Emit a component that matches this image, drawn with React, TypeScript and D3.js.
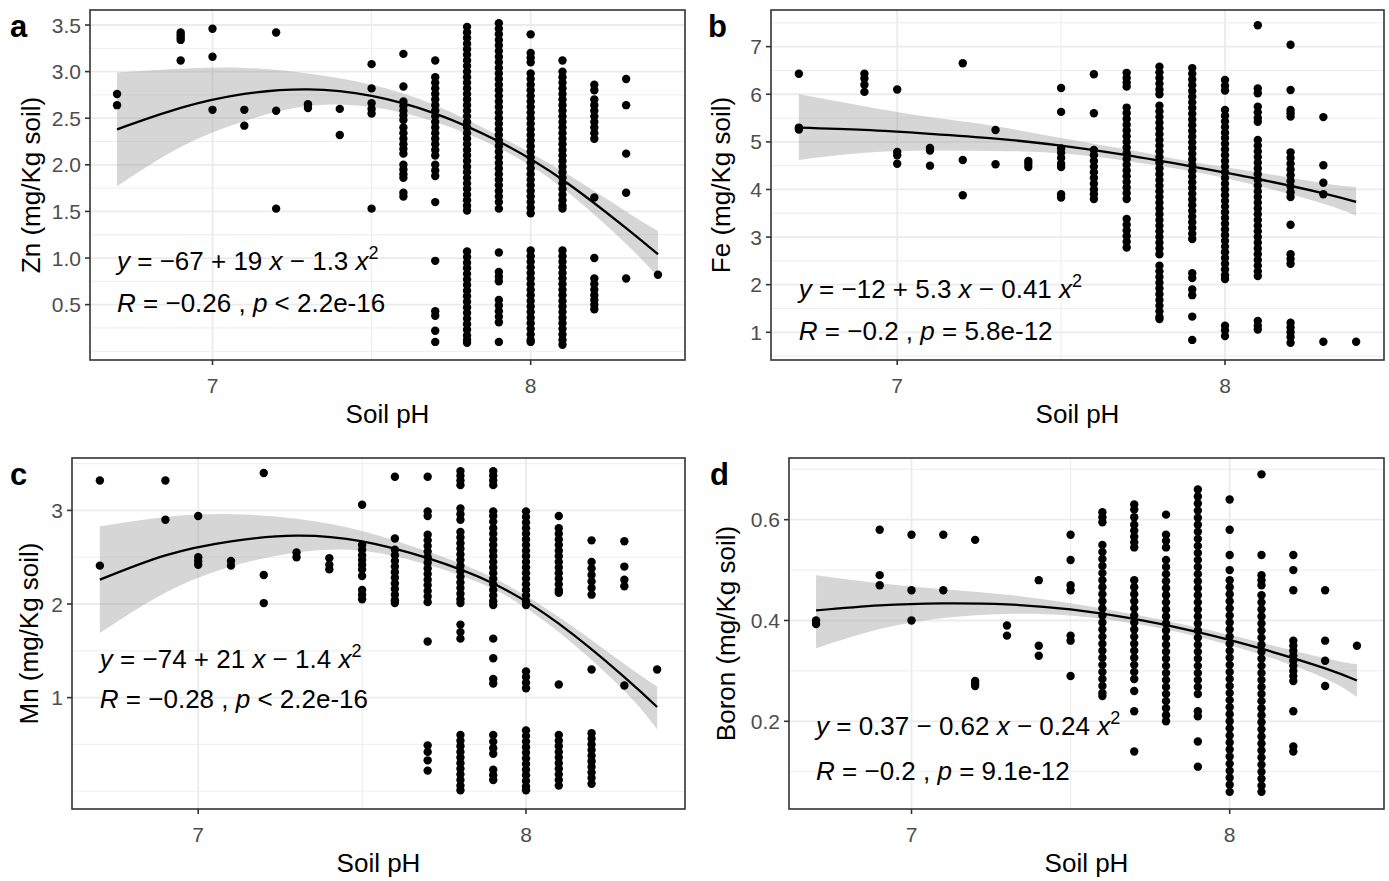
import React from 'react';
import * as d3 from 'd3';

// soil pH classes (x positions of the point columns)
const phLevels = [6.7, 6.9, 7.0, 7.1, 7.2, 7.3, 7.4, 7.5, 7.6, 7.7, 7.8, 7.9, 8.0, 8.1, 8.2, 8.3, 8.4];
const phDomain = [6.615, 8.485];
const phTicks = [7, 8];
const phMinor = [7.5];

// a: Zn, one list of values per pH class
const znValues = [
  [2.76, 2.64],
  [3.42, 3.39, 3.36, 3.34, 3.12],
  [3.46, 3.16, 2.59],
  [2.59, 2.42],
  [3.42, 2.58, 1.53],
  [2.65, 2.61],
  [2.60, 2.32],
  [3.08, 2.82, 2.66, 2.60, 2.55, 1.53],
  [3.19, 2.84, 2.68, 2.63, 2.58, 2.53, 2.48, 2.40, 2.34, 2.28, 2.22, 2.17, 2.12, 2.00, 1.95, 1.90, 1.86, 1.70, 1.66],
  [3.12, 2.94, 2.88, 2.82, 2.76, 2.70, 2.64, 2.58, 2.52, 2.46, 2.40, 2.34, 2.28, 2.22, 2.16, 2.10, 2.00, 1.94, 1.88, 1.60, 0.97, 0.43, 0.38, 0.22, 0.10],
  [3.48, 3.42, 3.36, 3.30, 3.24, 3.18, 3.12, 3.06, 3.00, 2.94, 2.88, 2.82, 2.76, 2.70, 2.64, 2.58, 2.52, 2.46, 2.40, 2.34, 2.28, 2.22, 2.16, 2.10, 2.04, 1.98, 1.92, 1.86, 1.80, 1.74, 1.68, 1.62, 1.56, 1.51,
    1.07, 1.01, 0.95, 0.89, 0.83, 0.77, 0.71, 0.65, 0.59, 0.53, 0.47, 0.41, 0.35, 0.29, 0.23, 0.17, 0.12, 0.09],
  [3.52, 3.46, 3.40, 3.34, 3.28, 3.22, 3.16, 3.10, 3.04, 2.98, 2.92, 2.86, 2.80, 2.74, 2.68, 2.62, 2.56, 2.50, 2.44, 2.38, 2.32, 2.26, 2.20, 2.14, 2.08, 2.02, 1.96, 1.90, 1.84, 1.78, 1.72, 1.66, 1.60, 1.53,
    1.06, 0.85, 0.80, 0.75, 0.55, 0.49, 0.43, 0.37, 0.31, 0.10],
  [3.40, 3.20, 3.15, 3.10, 2.98, 2.92, 2.86, 2.80, 2.74, 2.68, 2.62, 2.56, 2.50, 2.44, 2.38, 2.32, 2.26, 2.20, 2.14, 2.08, 2.02, 1.96, 1.90, 1.84, 1.78, 1.72, 1.66, 1.60, 1.54, 1.48,
    1.08, 1.02, 0.96, 0.90, 0.84, 0.78, 0.72, 0.66, 0.60, 0.54, 0.48, 0.42, 0.36, 0.30, 0.24, 0.18, 0.12, 0.10],
  [3.12, 3.00, 2.94, 2.88, 2.82, 2.76, 2.70, 2.64, 2.58, 2.52, 2.46, 2.40, 2.34, 2.28, 2.22, 2.16, 2.10, 2.04, 1.98, 1.92, 1.86, 1.80, 1.74, 1.68, 1.62, 1.56, 1.53,
    1.08, 1.02, 0.96, 0.90, 0.84, 0.78, 0.72, 0.66, 0.60, 0.54, 0.48, 0.42, 0.36, 0.30, 0.24, 0.18, 0.12, 0.07],
  [2.86, 2.80, 2.70, 2.64, 2.58, 2.52, 2.46, 2.40, 2.34, 2.28, 1.65, 1.00, 0.78, 0.72, 0.66, 0.60, 0.55, 0.50, 0.45],
  [2.92, 2.64, 2.12, 1.70, 0.78],
  [0.82],
];

// b: Fe
const feValues = [
  [6.43, 5.30, 5.26],
  [6.43, 6.33, 6.20, 6.05],
  [6.10, 4.79, 4.72, 4.54],
  [4.87, 4.82, 4.50],
  [6.65, 4.62, 3.88],
  [5.25, 4.53],
  [4.60, 4.54, 4.47],
  [6.13, 5.63, 4.86, 4.77, 4.66, 4.54, 4.47, 3.90, 3.83],
  [6.42, 5.60, 4.83, 4.72, 4.60, 4.48, 4.36, 4.24, 4.12, 4.00, 3.90, 3.80],
  [6.45, 6.34, 6.24, 6.16, 5.72, 5.60, 5.48, 5.36, 5.24, 5.12, 5.00, 4.88, 4.76, 4.64, 4.52, 4.40, 4.28, 4.16, 4.04, 3.92, 3.80,
    3.38, 3.26, 3.14, 3.02, 2.90, 2.78],
  [6.58, 6.46, 6.34, 6.22, 6.10, 6.00, 5.76, 5.64, 5.52, 5.40, 5.28, 5.16, 5.04, 4.92, 4.80, 4.68, 4.56, 4.44, 4.32, 4.20, 4.08, 3.96, 3.84, 3.72, 3.60, 3.48, 3.36, 3.24, 3.12, 3.00, 2.88, 2.76, 2.64,
    2.40, 2.28, 2.16, 2.04, 1.92, 1.80, 1.68, 1.56, 1.44, 1.32, 1.28],
  [6.55, 6.43, 6.31, 6.19, 6.07, 5.95, 5.83, 5.71, 5.59, 5.47, 5.35, 5.23, 5.11, 4.99, 4.87, 4.75, 4.63, 4.51, 4.39, 4.27, 4.15, 4.03, 3.91, 3.79, 3.67, 3.55, 3.43, 3.31, 3.19, 3.07, 2.96,
    2.24, 2.14, 1.90, 1.78, 1.33, 0.84],
  [6.30, 6.18, 6.08, 5.67, 5.55, 5.43, 5.31, 5.19, 5.08, 4.96, 4.84, 4.72, 4.60, 4.48, 4.36, 4.24, 4.12, 4.00, 3.88, 3.76, 3.64, 3.52, 3.40, 3.28, 3.16, 3.04, 2.92, 2.80, 2.68, 2.56, 2.44, 2.32, 2.20, 2.12,
    1.14, 1.04, 0.92],
  [7.45, 6.12, 6.02, 5.74, 5.62, 5.50, 5.42, 5.04, 4.92, 4.80, 4.68, 4.56, 4.44, 4.32, 4.20, 4.08, 3.96, 3.84, 3.72, 3.60, 3.48, 3.36, 3.24, 3.12, 3.00, 2.88, 2.76, 2.64, 2.52, 2.40, 2.28, 2.18,
    1.24, 1.14, 1.06],
  [7.04, 6.09, 5.67, 5.60, 5.53, 4.78, 4.66, 4.54, 4.42, 4.30, 4.18, 4.06, 3.94, 3.84, 3.26, 2.64, 2.54, 2.44, 1.20, 1.10, 1.00, 0.90, 0.78],
  [5.52, 4.51, 4.14, 3.90, 0.80],
  [0.80],
];

// c: Mn
const mnValues = [
  [3.32, 2.41],
  [3.32, 2.90],
  [2.94, 2.50, 2.46, 2.42],
  [2.46, 2.41],
  [3.40, 2.31, 2.01],
  [2.55, 2.50],
  [2.49, 2.42, 2.37],
  [3.06, 2.63, 2.58, 2.52, 2.47, 2.42, 2.37, 2.30, 2.15, 2.10, 2.05],
  [3.36, 2.70, 2.58, 2.52, 2.46, 2.40, 2.34, 2.28, 2.22, 2.16, 2.10, 2.04, 2.01],
  [3.36, 2.99, 2.94, 2.74, 2.68, 2.62, 2.56, 2.50, 2.44, 2.38, 2.32, 2.26, 2.20, 2.14, 2.08, 2.02, 1.60, 0.49, 0.42, 0.33, 0.22],
  [3.42, 3.37, 3.32, 3.27, 3.02, 2.96, 2.90, 2.77, 2.71, 2.65, 2.59, 2.53, 2.47, 2.41, 2.35, 2.29, 2.23, 2.17, 2.11, 2.05, 2.01, 1.78, 1.70, 1.63,
    0.60, 0.54, 0.48, 0.42, 0.36, 0.30, 0.24, 0.18, 0.12, 0.06, 0.01],
  [3.42, 3.37, 3.32, 3.27, 2.99, 2.94, 2.88, 2.81, 2.75, 2.69, 2.63, 2.57, 2.51, 2.45, 2.39, 2.33, 2.27, 2.21, 2.15, 2.09, 2.03, 1.99,
    1.63, 1.42, 1.20, 1.15, 0.60, 0.53, 0.46, 0.40, 0.23, 0.17, 0.12],
  [2.99, 2.93, 2.87, 2.81, 2.75, 2.69, 2.63, 2.57, 2.51, 2.45, 2.39, 2.33, 2.27, 2.21, 2.15, 2.09, 2.03, 1.99,
    1.28, 1.22, 1.16, 1.10, 0.65, 0.59, 0.53, 0.47, 0.41, 0.35, 0.29, 0.23, 0.17, 0.11, 0.05, 0.01],
  [2.94, 2.81, 2.75, 2.69, 2.63, 2.57, 2.51, 2.45, 2.39, 2.33, 2.27, 2.21, 2.15, 2.12, 1.14, 0.60, 0.54, 0.48, 0.42, 0.36, 0.30, 0.24, 0.18, 0.12, 0.06],
  [2.68, 2.45, 2.38, 2.31, 2.24, 2.17, 2.10, 1.30, 0.62, 0.56, 0.50, 0.44, 0.38, 0.32, 0.26, 0.20, 0.14, 0.08],
  [2.67, 2.40, 2.26, 2.19, 1.13],
  [1.30],
];

// d: Boron
const boronValues = [
  [0.400, 0.393],
  [0.58, 0.49, 0.47],
  [0.57, 0.46, 0.40],
  [0.57, 0.46],
  [0.56, 0.280, 0.275, 0.270],
  [0.39, 0.37],
  [0.48, 0.35, 0.33],
  [0.57, 0.52, 0.47, 0.46, 0.37, 0.36, 0.29],
  [0.615, 0.605, 0.595, 0.55, 0.536, 0.522, 0.508, 0.494, 0.480, 0.466, 0.452, 0.438, 0.424, 0.410, 0.396, 0.382, 0.368, 0.354, 0.340, 0.326, 0.312, 0.298, 0.284, 0.270, 0.256, 0.25],
  [0.63, 0.62, 0.605, 0.59, 0.578, 0.566, 0.555, 0.545, 0.48, 0.466, 0.452, 0.438, 0.424, 0.410, 0.396, 0.382, 0.368, 0.354, 0.340, 0.326, 0.312, 0.298, 0.284, 0.26, 0.22, 0.14],
  [0.61, 0.57, 0.558, 0.545, 0.52, 0.506, 0.492, 0.478, 0.464, 0.450, 0.436, 0.422, 0.408, 0.394, 0.380, 0.366, 0.352, 0.338, 0.324, 0.310, 0.296, 0.282, 0.268, 0.254, 0.240, 0.226, 0.212, 0.20],
  [0.66, 0.646, 0.632, 0.618, 0.604, 0.590, 0.576, 0.562, 0.548, 0.534, 0.520, 0.506, 0.492, 0.478, 0.464, 0.450, 0.436, 0.422, 0.408, 0.394, 0.380, 0.366, 0.352, 0.338, 0.324, 0.310, 0.296, 0.282, 0.268, 0.254,
    0.22, 0.21, 0.16, 0.11],
  [0.64, 0.58, 0.53, 0.50, 0.48, 0.466, 0.452, 0.438, 0.424, 0.410, 0.396, 0.382, 0.368, 0.354, 0.340, 0.326, 0.312, 0.298, 0.284, 0.270, 0.256, 0.242, 0.228, 0.214, 0.200, 0.186, 0.172, 0.158, 0.144, 0.130, 0.116, 0.102, 0.088, 0.074, 0.06],
  [0.69, 0.53, 0.49, 0.48, 0.47, 0.45, 0.436, 0.422, 0.408, 0.394, 0.380, 0.366, 0.352, 0.338, 0.324, 0.310, 0.296, 0.282, 0.268, 0.254, 0.240, 0.226, 0.212, 0.198, 0.184, 0.170, 0.156, 0.142, 0.128, 0.114, 0.100, 0.086, 0.072, 0.06],
  [0.53, 0.50, 0.46, 0.36, 0.35, 0.34, 0.33, 0.32, 0.31, 0.30, 0.29, 0.28, 0.22, 0.15, 0.14],
  [0.46, 0.36, 0.32, 0.27],
  [0.35],
];

const fitPh = [6.7, 6.9, 7.1, 7.3, 7.5, 7.7, 7.9, 8.1, 8.3, 8.4];
const znFit = [2.38, 2.61, 2.76, 2.81, 2.74, 2.55, 2.25, 1.84, 1.32, 1.04];
const znUpper = [2.99, 3.03, 3.04, 2.98, 2.86, 2.64, 2.31, 1.93, 1.50, 1.29];
const znLower = [1.77, 2.19, 2.47, 2.63, 2.62, 2.46, 2.18, 1.75, 1.15, 0.80];
const feFit = [5.30, 5.25, 5.17, 5.07, 4.92, 4.72, 4.48, 4.22, 3.92, 3.74];
const feUpper = [6.00, 5.75, 5.52, 5.33, 5.08, 4.84, 4.58, 4.36, 4.13, 4.05];
const feLower = [4.62, 4.77, 4.82, 4.81, 4.76, 4.60, 4.38, 4.08, 3.70, 3.45];
const mnFit = [2.26, 2.52, 2.67, 2.73, 2.67, 2.49, 2.22, 1.79, 1.22, 0.90];
const mnUpper = [2.83, 2.93, 2.96, 2.91, 2.78, 2.56, 2.28, 1.86, 1.36, 1.12];
const mnLower = [1.69, 2.12, 2.40, 2.55, 2.57, 2.42, 2.16, 1.70, 1.07, 0.66];
const boronFit = [0.420, 0.430, 0.434, 0.432, 0.422, 0.403, 0.377, 0.344, 0.305, 0.281];
const boronUpper = [0.490, 0.474, 0.462, 0.451, 0.434, 0.412, 0.386, 0.356, 0.325, 0.313];
const boronLower = [0.345, 0.383, 0.405, 0.413, 0.410, 0.394, 0.368, 0.332, 0.285, 0.248];

// equation / correlation labels
const eqTerms = [
  ['−67 + 19', '− 1.3'],
  ['−12 + 5.3', '− 0.41'],
  ['−74 + 21', '− 1.4'],
  ['0.37 − 0.62', '− 0.24'],
];
const statTerms = [
  ['−0.26', '< 2.2e-16'],
  ['−0.2', '= 5.8e-12'],
  ['−0.28', '< 2.2e-16'],
  ['−0.2', '= 9.1e-12'],
];

const font = '"Liberation Sans", Arial, sans-serif';

const panels = [
  {
    letter: 'a', title: 'Zn (mg/Kg soil)', values: znValues, fit: znFit, upper: znUpper, lower: znLower,
    box: [90, 10, 685, 360], yDomain: [-0.094, 3.661],
    yTicks: [0.5, 1, 1.5, 2, 2.5, 3, 3.5], yMinor: [0, 0.25, 0.75, 1.25, 1.75, 2.25, 2.75, 3.25], fmt: '.1f',
    textY: [0.87, 0.42], titleX: 40, letterX: 10, letterY: 37,
  },
  {
    letter: 'b', title: 'Fe (mg/Kg soil)', values: feValues, fit: feFit, upper: feUpper, lower: feLower,
    box: [771, 10, 1384, 360], yDomain: [0.418, 7.77],
    yTicks: [1, 2, 3, 4, 5, 6, 7], yMinor: [0.5, 1.5, 2.5, 3.5, 4.5, 5.5, 6.5, 7.5], fmt: 'd',
    textY: [1.72, 0.83], titleX: 730, letterX: 708, letterY: 37,
  },
  {
    letter: 'c', title: 'Mn (mg/Kg soil)', values: mnValues, fit: mnFit, upper: mnUpper, lower: mnLower,
    box: [72, 458, 685, 809], yDomain: [-0.19, 3.56],
    yTicks: [1, 2, 3], yMinor: [0, 0.5, 1.5, 2.5, 3.5], fmt: 'd',
    textY: [1.317, 0.889], titleX: 38, letterX: 10, letterY: 485,
  },
  {
    letter: 'd', title: 'Boron (mg/Kg soil)', values: boronValues, fit: boronFit, upper: boronUpper, lower: boronLower,
    box: [789, 458, 1384, 809], yDomain: [0.026, 0.7224],
    yTicks: [0.2, 0.4, 0.6], yMinor: [0.1, 0.3, 0.5, 0.7], fmt: '.1f',
    textY: [0.1734, 0.0841], titleX: 735, letterX: 710, letterY: 485,
  },
];

function Panel({ p, i }) {
  const [x0, y0, x1, y1] = p.box;
  const x = d3.scaleLinear().domain(phDomain).range([x0, x1]);
  const y = d3.scaleLinear().domain(p.yDomain).range([y1, y0]);
  const fmt = d3.format(p.fmt);

  const band = d3.area()
    .x((_, k) => x(fitPh[k]))
    .y0((_, k) => y(p.lower[k]))
    .y1((_, k) => y(p.upper[k]))
    .curve(d3.curveNatural);
  const line = d3.line()
    .x((_, k) => x(fitPh[k]))
    .y(d => y(d))
    .curve(d3.curveNatural);

  const [eqA, eqB] = eqTerms[i];
  const [rVal, pVal] = statTerms[i];
  const tx = x(6.7);

  return (
    <g>
      <rect x={x0} y={y0} width={x1 - x0} height={y1 - y0} fill="white" />
      {p.yMinor.map((v, k) => (
        <line key={'ym' + k} x1={x0} x2={x1} y1={y(v)} y2={y(v)} stroke="#EBEBEB" strokeWidth={0.9} />
      ))}
      {phMinor.map((v, k) => (
        <line key={'xm' + k} x1={x(v)} x2={x(v)} y1={y0} y2={y1} stroke="#EBEBEB" strokeWidth={0.9} />
      ))}
      {p.yTicks.map((v, k) => (
        <line key={'yg' + k} x1={x0} x2={x1} y1={y(v)} y2={y(v)} stroke="#EBEBEB" strokeWidth={1.8} />
      ))}
      {phTicks.map((v, k) => (
        <line key={'xg' + k} x1={x(v)} x2={x(v)} y1={y0} y2={y1} stroke="#EBEBEB" strokeWidth={1.8} />
      ))}

      <path d={band(p.fit)} fill="#999999" fillOpacity={0.4} />
      <path d={line(p.fit)} fill="none" stroke="black" strokeWidth={2.3} />

      {p.values.map((col, c) =>
        col.map((v, k) => <circle key={c + '-' + k} cx={x(phLevels[c])} cy={y(v)} r={4.2} fill="black" />)
      )}

      <text x={tx} y={y(p.textY[0])} fontFamily={font} fontSize={26} fill="black" style={{ whiteSpace: 'pre' }}>
        <tspan fontStyle="italic">y</tspan>
        <tspan>{' = ' + eqA + ' '}</tspan>
        <tspan fontStyle="italic">x</tspan>
        <tspan>{' ' + eqB + ' '}</tspan>
        <tspan fontStyle="italic">x</tspan>
        <tspan fontSize={18} dy={-11}>2</tspan>
      </text>
      <text x={tx} y={y(p.textY[1])} fontFamily={font} fontSize={26} fill="black" style={{ whiteSpace: 'pre' }}>
        <tspan fontStyle="italic">R</tspan>
        <tspan>{' = ' + rVal + ' , '}</tspan>
        <tspan fontStyle="italic">p</tspan>
        <tspan>{' ' + pVal}</tspan>
      </text>

      <rect x={x0} y={y0} width={x1 - x0} height={y1 - y0} fill="none" stroke="#333333" strokeWidth={1.6} />

      {p.yTicks.map((v, k) => (
        <g key={'yt' + k}>
          <line x1={x0 - 5} x2={x0} y1={y(v)} y2={y(v)} stroke="#333333" strokeWidth={1.6} />
          <text x={x0 - 9} y={y(v)} dy="0.36em" textAnchor="end" fontFamily={font} fontSize={21} fill="#4D4D4D">
            {fmt(v)}
          </text>
        </g>
      ))}
      {phTicks.map((v, k) => (
        <g key={'xt' + k}>
          <line x1={x(v)} x2={x(v)} y1={y1} y2={y1 + 5} stroke="#333333" strokeWidth={1.6} />
          <text x={x(v)} y={y1 + 33} textAnchor="middle" fontFamily={font} fontSize={21} fill="#4D4D4D">
            {v}
          </text>
        </g>
      ))}

      <text x={(x0 + x1) / 2} y={y1 + 63} textAnchor="middle" fontFamily={font} fontSize={26} fill="black">
        Soil pH
      </text>
      <text
        transform={`translate(${p.titleX},${(y0 + y1) / 2}) rotate(-90)`}
        textAnchor="middle" fontFamily={font} fontSize={26} fill="black"
      >
        {p.title}
      </text>
      <text x={p.letterX} y={p.letterY} fontFamily={font} fontSize={31} fontWeight="bold" fill="black">
        {p.letter}
      </text>
    </g>
  );
}

export default function App() {
  return (
    <svg width={1389} height={881} style={{ position: 'absolute', left: 0, top: 0, background: 'white' }}>
      <rect width={1389} height={881} fill="white" />
      {panels.map((p, i) => <Panel key={p.letter} p={p} i={i} />)}
    </svg>
  );
}
